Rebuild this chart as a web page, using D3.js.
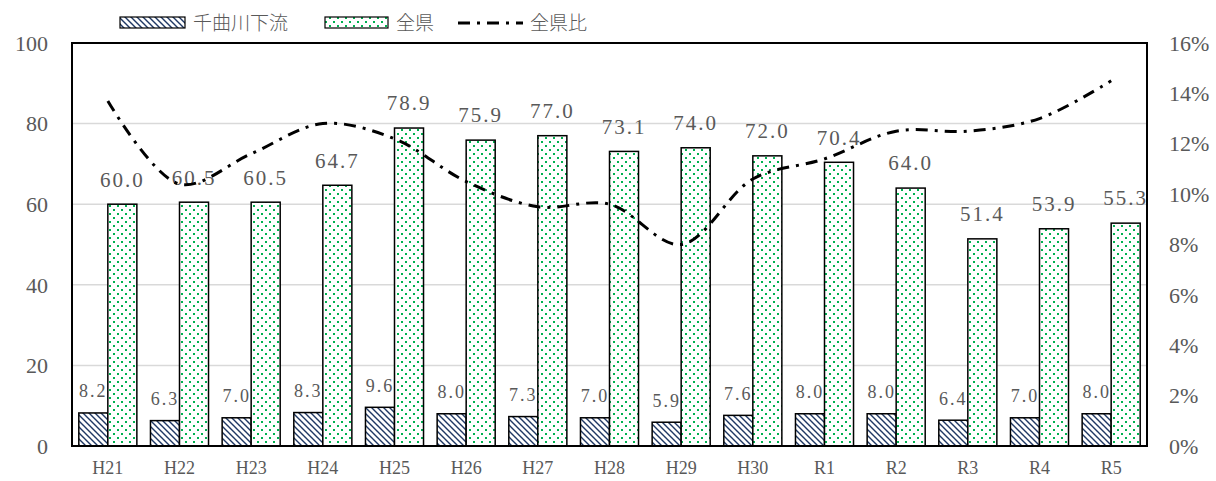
<!DOCTYPE html>
<html>
<head>
<meta charset="utf-8">
<script src="https://cdn.jsdelivr.net/npm/d3@7"></script>
<style>
	body { margin: 0; background: #fff; }
	text { fill: #595959; }
</style>
</head>
<body>
<svg id="chart" width="1216" height="481"></svg>
<script>

const CATEGORIES = ['H21', 'H22', 'H23', 'H24', 'H25', 'H26', 'H27', 'H28', 'H29', 'H30', 'R1', 'R2', 'R3', 'R4', 'R5'];
const CHIKUMA = [8.2, 6.3, 7.0, 8.3, 9.6, 8.0, 7.3, 7.0, 5.9, 7.6, 8.0, 8.0, 6.4, 7.0, 8.0];
const ZENKEN = [60.0, 60.5, 60.5, 64.7, 78.9, 75.9, 77.0, 73.1, 74.0, 72.0, 70.4, 64.0, 51.4, 53.9, 55.3];
const RATIO = [13.7, 10.4, 11.6, 12.8, 12.2, 10.5, 9.5, 9.6, 8.0, 10.6, 11.4, 12.5, 12.5, 13.0, 14.5];
const LEFT_TICKS = [0, 20, 40, 60, 80, 100];
const RIGHT_TICKS = [0, 2, 4, 6, 8, 10, 12, 14, 16];
const SERIES = ['千曲川下流', '全県', '全県比'];

const L = 72, R = 1147, T = 43, B = 446;
const SERIF = "'Liberation Serif', 'Times New Roman', serif";
const JP = "'Noto Sans CJK JP', sans-serif";
const svg = d3.select('#chart');

// patterns
const defs = svg.append('defs');
const hatch = defs.append('pattern')
	.attr('id', 'hatch').attr('patternUnits', 'userSpaceOnUse')
	.attr('width', 6).attr('height', 6);
hatch.append('rect').attr('width', 6).attr('height', 6).attr('fill', '#fff');
hatch.append('path')
	.attr('d', 'M-1,-1 L7,7 M-4,2 L4,10 M2,-4 L10,4')
	.attr('stroke', '#1f3864').attr('stroke-width', 1.4);

const dots = defs.append('pattern')
	.attr('id', 'dots').attr('patternUnits', 'userSpaceOnUse')
	.attr('width', 8).attr('height', 8);
dots.append('rect').attr('width', 8).attr('height', 8).attr('fill', '#fff');
dots.append('rect').attr('x', 1).attr('y', 1).attr('width', 2).attr('height', 2).attr('fill', '#00b050');
dots.append('rect').attr('x', 5).attr('y', 5).attr('width', 2).attr('height', 2).attr('fill', '#00b050');

// scales
const x = d3.scaleBand().domain(CATEGORIES).range([L, R])
	.paddingInner(0.19).paddingOuter(0.095);
const xs = d3.scaleBand().domain([0, 1]).range([0, x.bandwidth()]);
const y = d3.scaleLinear().domain([0, 100]).range([B, T]);
const y2 = d3.scaleLinear().domain([0, 16]).range([B, T]);

// grid
svg.append('g').selectAll('line')
	.data(LEFT_TICKS.filter(d => d > 0 && d < 100))
	.enter().append('line')
	.attr('x1', L).attr('x2', R)
	.attr('y1', d => y(d)).attr('y2', d => y(d))
	.attr('stroke', '#d9d9d9').attr('stroke-width', 1.5);

// axes labels
svg.append('g').selectAll('text')
	.data(LEFT_TICKS).enter().append('text')
	.attr('font-family', SERIF).attr('font-size', 22)
	.attr('x', 48).attr('y', d => y(d)).attr('dy', '0.35em')
	.attr('text-anchor', 'end')
	.text(d => d);

svg.append('g').selectAll('text')
	.data(RIGHT_TICKS).enter().append('text')
	.attr('font-family', SERIF).attr('font-size', 22)
	.attr('x', 1169).attr('y', d => y2(d)).attr('dy', '0.35em')
	.text(d => d + '%');

svg.append('g').selectAll('text')
	.data(CATEGORIES).enter().append('text')
	.attr('font-family', SERIF).attr('font-size', 18)
	.attr('x', d => x(d) + x.bandwidth() / 2).attr('y', 468).attr('dy', '0.35em')
	.attr('text-anchor', 'middle')
	.text(d => d);

// bars
const bars = svg.append('g');
bars.selectAll('rect.c')
	.data(CHIKUMA).enter().append('rect')
	.attr('x', (d, i) => x(CATEGORIES[i]) + xs(0))
	.attr('y', d => y(d))
	.attr('width', xs.bandwidth())
	.attr('height', d => B - y(d))
	.attr('fill', 'url(#hatch)').attr('stroke', '#000').attr('stroke-width', 1.5);
bars.selectAll('rect.z')
	.data(ZENKEN).enter().append('rect')
	.attr('x', (d, i) => x(CATEGORIES[i]) + xs(1))
	.attr('y', d => y(d))
	.attr('width', xs.bandwidth())
	.attr('height', d => B - y(d))
	.attr('fill', 'url(#dots)').attr('stroke', '#000').attr('stroke-width', 1.5);

// frame
svg.append('rect')
	.attr('x', L).attr('y', T).attr('width', R - L).attr('height', B - T)
	.attr('fill', 'none').attr('stroke', '#000').attr('stroke-width', 2);

// data labels
svg.append('g').selectAll('text')
	.data(CHIKUMA).enter().append('text')
	.attr('font-family', SERIF).attr('font-size', 18).attr('letter-spacing', 2)
	.attr('x', (d, i) => x(CATEGORIES[i]) + xs(0) + xs.bandwidth() / 2)
	.attr('y', d => y(d) - 22).attr('dy', '0.35em')
	.attr('text-anchor', 'middle')
	.text(d => d3.format('.1f')(d));
svg.append('g').selectAll('text')
	.data(ZENKEN).enter().append('text')
	.attr('font-family', SERIF).attr('font-size', 21).attr('letter-spacing', 2)
	.attr('x', (d, i) => x(CATEGORIES[i]) + xs(1) + xs.bandwidth() / 2)
	.attr('y', d => y(d) - 25).attr('dy', '0.35em')
	.attr('text-anchor', 'middle')
	.text(d => d3.format('.1f')(d));

// ratio line
const line = d3.line()
	.x((d, i) => x(CATEGORIES[i]) + x.bandwidth() / 2)
	.y(d => y2(d))
	.curve(d3.curveCatmullRom);
svg.append('path')
	.datum(RATIO)
	.attr('d', line)
	.attr('fill', 'none').attr('stroke', '#000').attr('stroke-width', 3)
	.attr('stroke-dasharray', '12,7,3,7');

// legend
const lg = svg.append('g');
lg.append('rect').attr('x', 120).attr('y', 17).attr('width', 65).attr('height', 11)
	.attr('fill', 'url(#hatch)').attr('stroke', '#000').attr('stroke-width', 1.2);
lg.append('text').attr('font-family', JP).attr('font-size', 19).attr('font-weight', 300)
	.attr('x', 193).attr('y', 23).attr('dy', '0.35em').text(SERIES[0]);
lg.append('rect').attr('x', 325).attr('y', 17).attr('width', 63).attr('height', 11)
	.attr('fill', 'url(#dots)').attr('stroke', '#000').attr('stroke-width', 1.2);
lg.append('text').attr('font-family', JP).attr('font-size', 19).attr('font-weight', 300)
	.attr('x', 396).attr('y', 23).attr('dy', '0.35em').text(SERIES[1]);
lg.append('line').attr('x1', 458).attr('x2', 523).attr('y1', 23).attr('y2', 23)
	.attr('stroke', '#000').attr('stroke-width', 3).attr('stroke-dasharray', '12,7,3,7');
lg.append('text').attr('font-family', JP).attr('font-size', 19).attr('font-weight', 300)
	.attr('x', 530).attr('y', 23).attr('dy', '0.35em').text(SERIES[2]);

</script>
</body>
</html>
